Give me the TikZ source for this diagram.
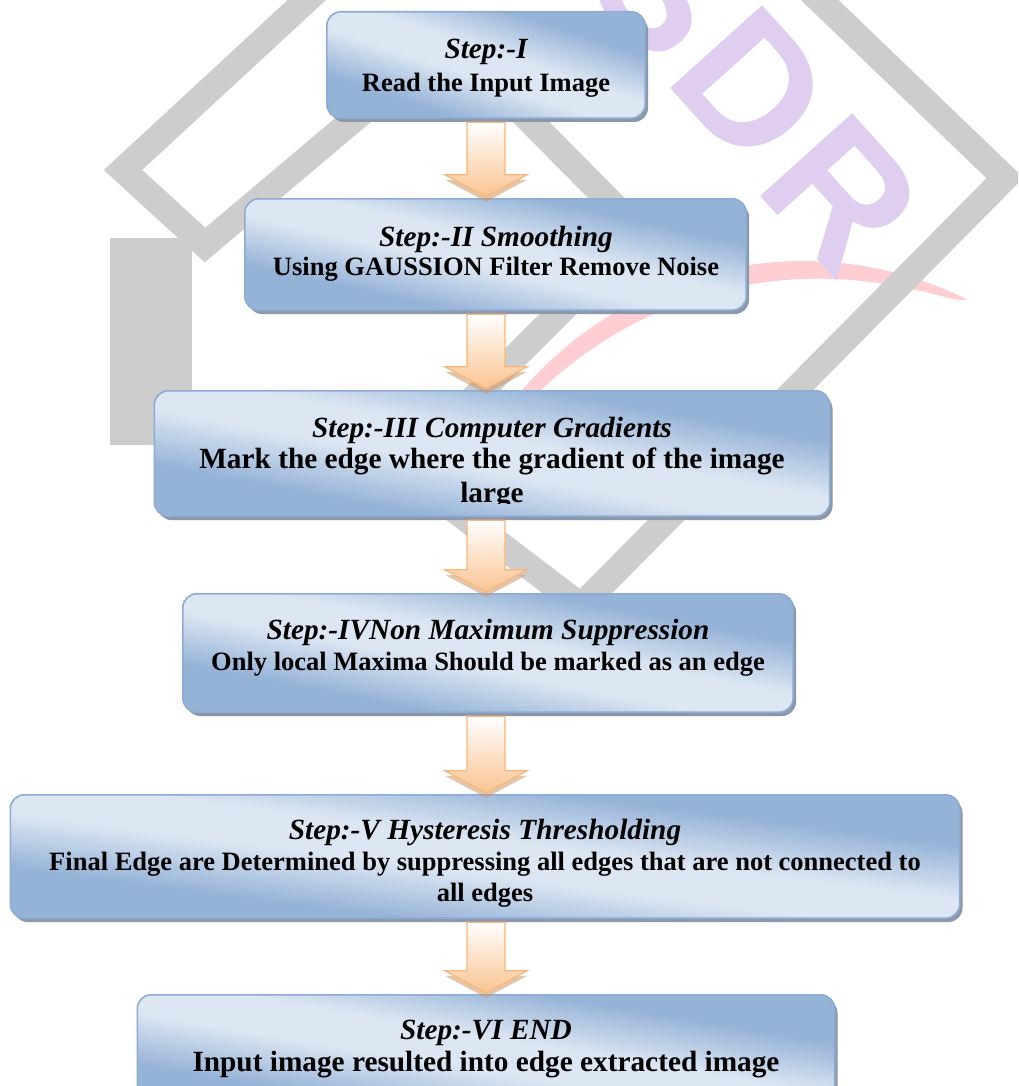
\documentclass[tikz,border=0pt]{standalone}
\usepackage{fontspec}
\setmainfont{Liberation Serif}
\newfontfamily\wmfont{Liberation Sans}
\usetikzlibrary{shadows,calc}
\definecolor{boxdark}{RGB}{149,179,215}
\definecolor{boxlight}{RGB}{221,231,243}
\definecolor{boxborder}{RGB}{141,172,212}
\definecolor{boxshadow}{RGB}{140,152,170}
\definecolor{arrowborder}{RGB}{248,183,122}
\definecolor{arrowfill}{RGB}{250,196,145}
\definecolor{arrowshadow}{RGB}{205,150,105}
\definecolor{wmgrey}{RGB}{205,205,205}
\definecolor{wmpurple}{RGB}{224,206,240}
\definecolor{wmpink}{RGB}{255,206,210}
\pgfdeclareverticalshading{boxshade}{100bp}{color(0bp)=(boxdark); color(29bp)=(boxdark); color(45bp)=(boxlight); color(55bp)=(boxlight); color(71bp)=(boxdark); color(100bp)=(boxdark)}
\tikzset{
  boxbase/.style={rectangle, rounded corners=14pt, fill=boxlight, inner sep=0pt,
    drop shadow={shadow xshift=3pt, shadow yshift=-4pt, fill=boxshadow, opacity=1}},
  boxedge/.style={draw=boxborder, line width=1.6pt, rounded corners=14pt},
  itline/.style={font=\fontsize{29.3}{33}\selectfont\bfseries\itshape, anchor=base, inner sep=0pt},
  bdline/.style={font=\fontsize{26.5}{33}\selectfont\bfseries, anchor=base, inner sep=0pt},
  bdbig/.style={font=\fontsize{29.3}{33}\selectfont\bfseries, anchor=base, inner sep=0pt},
  band/.style={draw=wmgrey, line width=26pt, line join=miter},
  arrowstyle/.style={draw=arrowborder, line width=1.2pt, line join=miter,
    shading=axis, top color=white, bottom color=arrowfill},
  wmletter/.style={font=\wmfont\bfseries\fontsize{180}{180}\selectfont, text=wmpurple, rotate=-48, inner sep=0pt},
}
\newcommand{\flowbox}[5]{%
  \node[boxbase, minimum width=#4pt, minimum height=#5pt] (#1) at (#2,#3) {};
  \begin{scope}
    \clip[rounded corners=14pt] (#1.south west) rectangle (#1.north east);
    \shade[shading=boxshade, shading angle=-45,
      transform canvas={shift={(#1.center)}, xscale=#4/100, yscale=#5/100}]
      (-50pt,-50pt) rectangle (50pt,50pt);
  \end{scope}
  \draw[boxedge] (#1.south west) rectangle (#1.north east);
}
\newcommand{\flowarrow}[2]{%
  \fill[arrowshadow, opacity=0.55] let \p1=(#1.south), \p2=(#2.north) in
    (445pt,\y2+19pt) -- (527pt,\y2+19pt) -- (486pt,\y2-3pt) -- cycle;
  \draw[arrowstyle] let \p1=(#1.south), \p2=(#2.north) in
    (467pt,\y1-4pt) -- (505pt,\y1-4pt) -- (505pt,\y2+24pt) -- (527pt,\y2+24pt)
    -- (486pt,\y2+2pt) -- (445pt,\y2+24pt) -- (467pt,\y2+24pt) -- cycle;
}
\begin{document}
\begin{tikzpicture}[x=1pt,y=-1pt]
\useasboundingbox (0,0) rectangle (1018,1086);
\clip (0,0) rectangle (1018,1086);
\fill[white] (0,0) rectangle (1018,1086);
% watermark
\fill[wmpink] plot[domain=63.6:152, samples=90] ({803+370*cos(\x)},{631-370*sin(\x)})
  -- plot[domain=152:63.6, samples=90] ({803+(370-20*sqrt(abs(sin((\x-63.6)/88.4*180))))*cos(\x)},{631-(370-20*sqrt(abs(sin((\x-63.6)/88.4*180))))*sin(\x)}) -- cycle;
\draw[band] (523,-200) -- (123,170) -- (205,245) -- (449,39) -- (640,232) -- (402,470) -- (581,606) -- (1005,178) -- (675,-139);
\fill[wmgrey] (110,238) rectangle (192,445);
\node[wmletter] (wmS) at (665,-14) {S};
\node[wmletter] (wmD) at (752,86) {D};
\node[wmletter] (wmR) at (842,194) {R};
% boxes
\flowbox{b1}{486}{65}{318}{106}
\flowbox{b2}{495.5}{254.5}{501}{111}
\flowbox{b3}{492}{453.5}{675}{125}
\flowbox{b4}{488}{653}{610}{118}
\flowbox{b5}{485}{856.5}{949}{123}
\flowbox{b6}{486}{1054}{697}{118}
% texts
\node[itline] (t1a) at (486,59) {Step:-I};
\node[bdline] (t1b) at (486,91.5) {Read the Input Image};
\node[itline] (t2a) at (496,246.5) {Step:-II Smoothing};
\node[bdline] (t2b) at (496,275.5) {Using GAUSSION Filter Remove Noise};
\node[itline] (t3a) at (492,437.5) {Step:-III Computer Gradients};
\node[bdbig] (t3b) at (492,468.5) {Mark the edge where the gradient of the image};
\begin{scope}
  \clip (300,470) rectangle (700,503.5);
  \node[bdbig] (t3c) at (492,502) {large};
\end{scope}
\node[itline] (t4a) at (488,639) {Step:-IVNon Maximum Suppression};
\node[bdline] (t4b) at (488,670) {Only local Maxima Should be marked as an edge};
\node[itline] (t5a) at (485,839) {Step:-V Hysteresis Thresholding};
\node[bdline] (t5b) at (485,870.5) {Final Edge are Determined by suppressing all edges that are not connected to};
\node[bdline] (t5c) at (485,901) {all edges};
\node[itline] (t6a) at (486,1039.5) {Step:-VI END};
\node[bdbig] (t6b) at (486,1071.5) {Input image resulted into edge extracted image};
% arrows
\flowarrow{b1}{b2}
\flowarrow{b2}{b3}
\flowarrow{b3}{b4}
\flowarrow{b4}{b5}
\flowarrow{b5}{b6}
\end{tikzpicture}
\end{document}
